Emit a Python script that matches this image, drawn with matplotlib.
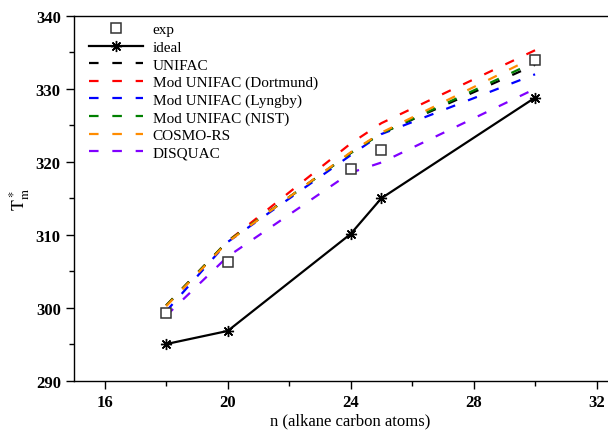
import matplotlib
matplotlib.use("Agg")
import matplotlib.pyplot as plt
from matplotlib.ticker import MultipleLocator

plt.rcParams['font.family'] = ['Liberation Serif', 'DejaVu Serif']
plt.rcParams['mathtext.fontset'] = 'stix'

n_exp = [18, 20, 24, 25, 30]
exp_vals = [299.3, 306.3, 319.0, 321.6, 333.9]
ideal_vals = [295.0, 296.8, 310.1, 315.0, 328.8]

n_model = [18, 20, 24, 25, 30]
unifac = [300.3, 309.1, 321.2, 323.9, 333.3]
mod_dortmund = [300.3, 309.1, 322.5, 325.3, 335.3]
mod_lyngby = [299.5, 309.0, 320.9, 323.8, 332.0]
mod_nist = [300.3, 309.1, 321.2, 323.9, 333.7]
cosmo_rs = [300.2, 309.0, 321.3, 324.0, 334.4]
disquac = [298.9, 307.0, 318.5, 319.9, 330.0]

fig = plt.figure(figsize=(6.08, 4.31), dpi=100)
ax = fig.add_axes([0.1217, 0.1148, 0.910, 0.8458])

ax.plot(n_exp, exp_vals, linestyle='none', marker='s', markersize=6.8,
        markerfacecolor='white', markeredgecolor='#333333', markeredgewidth=1.1,
        label='exp', zorder=5)
ax.plot(n_exp, ideal_vals, color='black', linewidth=1.6, marker=(8, 2, 0),
        markersize=8, markeredgewidth=1.0, label='ideal', zorder=4)

dash = (4.3, 6.2)
models = [
    (unifac, 'black', 'UNIFAC'),
    (mod_dortmund, '#ff0000', 'Mod UNIFAC (Dortmund)'),
    (mod_lyngby, '#0000ff', 'Mod UNIFAC (Lyngby)'),
    (mod_nist, '#008000', 'Mod UNIFAC (NIST)'),
    (cosmo_rs, '#ff8c00', 'COSMO-RS'),
    (disquac, '#8000ff', 'DISQUAC'),
]
for vals, col, lab in models:
    ax.plot(n_model, vals, color=col, linewidth=1.6, linestyle=(0, dash), label=lab)

ax.set_xlim(15, 33)
ax.set_ylim(290, 340)
ax.xaxis.set_major_locator(MultipleLocator(4))
ax.xaxis.set_minor_locator(MultipleLocator(2))
ax.yaxis.set_major_locator(MultipleLocator(10))
ax.yaxis.set_minor_locator(MultipleLocator(5))
ax.tick_params(which='both', direction='out', top=False, right=False, width=1.0)
ax.tick_params(which='major', length=6, labelsize=12)
ax.tick_params(which='minor', length=3.5)
for lab in ax.get_xticklabels() + ax.get_yticklabels():
    lab.set_fontweight('bold')
for sp in ax.spines.values():
    sp.set_linewidth(1.0)

ax.set_xlabel('n (alkane carbon atoms)', fontsize=12, labelpad=2)
ax.set_ylabel(r'$\mathrm{T^*_m}$', fontsize=13, labelpad=3)

leg = ax.legend(loc='upper left', bbox_to_anchor=(0.011, 1.0065), frameon=False,
                fontsize=11, handlelength=3.5, handletextpad=0.65,
                labelspacing=0.25, borderaxespad=0.2)

fig.savefig('out.png', dpi=100)
